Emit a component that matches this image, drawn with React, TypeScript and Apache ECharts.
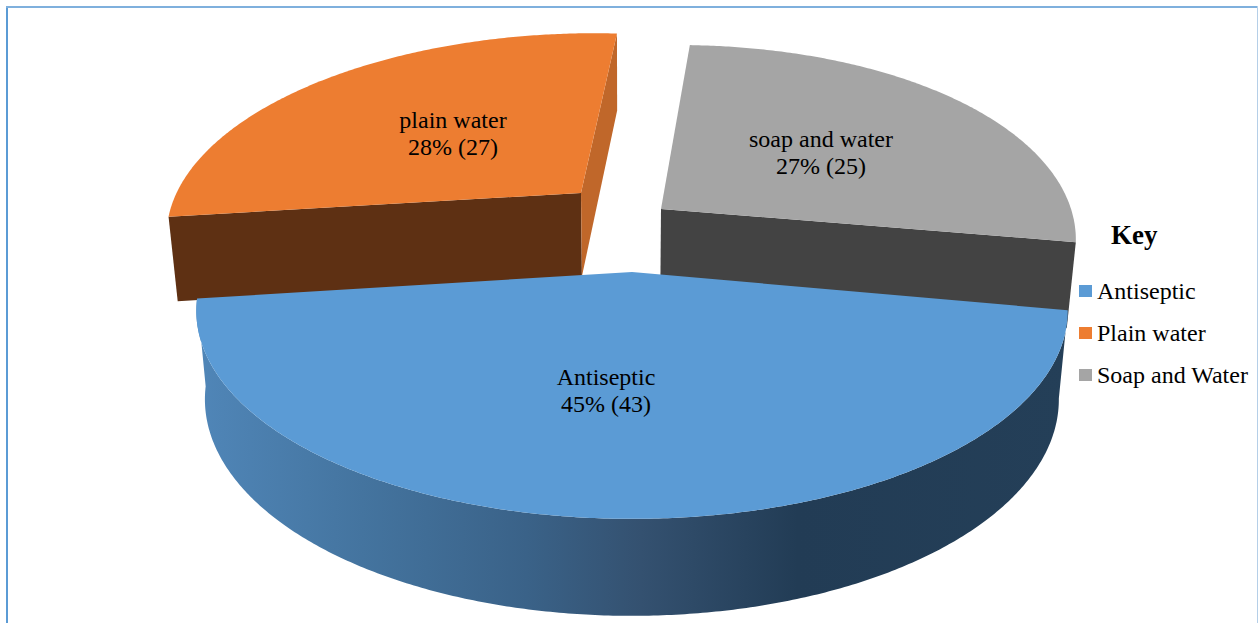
import React, { useEffect, useRef } from "react";
import * as echarts from "echarts";

// Hand-washing agents: share of respondents and head count per agent.
const legendNames = ["Antiseptic", "Plain water", "Soap and Water"];
const sliceNames = ["Antiseptic", "plain water", "soap and water"];
const percentages = [45, 28, 27];
const counts = [43, 27, 25];
const topColors = ["#5B9BD5", "#ED7D31", "#A5A5A5"];

const FONT = '"Liberation Serif", "Times New Roman", serif';

// Pie geometry: a tilted disc seen in perspective, with each slice pulled out.
const START_ANGLE = 101;
const RADIUS_X = 428;
const RADIUS_Y = 200.7;
const PERSPECTIVE = 0.187;
const BASE_CENTER_X = 626;
const BASE_SHRINK = 0.98;
const slicePlacement = [
  { ax: 632, ay: 272, scaleX: 1, scaleY: 1, turn: -0.4, lean: 0, labelX: 606, labelY: 390 },
  { ax: 581, ay: 193, scaleX: 0.945, scaleY: 0.945, turn: 0, lean: 13.4, labelX: 453, labelY: 133 },
  { ax: 661, ay: 209, scaleX: 0.958, scaleY: 0.97, turn: -1.5, lean: 15, labelX: 821, labelY: 152.5 },
];

const total = percentages.reduce((a, b) => a + b, 0);

function sliceAngles(index: number, value: number) {
  const before = percentages.slice(0, index).reduce((a, b) => a + b, 0);
  const start = START_ANGLE + (before / total) * 360;
  return [start, start + (value / total) * 360];
}

function rimPoint(index: number, deg: number): number[] {
  const p = slicePlacement[index];
  const rad = ((deg + p.turn) * Math.PI) / 180;
  const x = Math.sin(rad);
  const y = -Math.cos(rad);
  const w = 1 - PERSPECTIVE * y;
  return [
    p.ax + (p.scaleX * RADIUS_X * x) / w - p.lean * y,
    p.ay + (p.scaleY * RADIUS_Y * y) / w,
  ];
}

// The underside of the pie lies slightly lower and narrower than the top.
function dropped(pt: number[]): number[] {
  return [
    BASE_CENTER_X + (pt[0] - BASE_CENTER_X) * BASE_SHRINK,
    pt[1] + 75.6 + 0.0412 * pt[1],
  ];
}

function rimPoints(index: number, from: number, to: number): number[][] {
  const steps = Math.max(2, Math.ceil(Math.abs(to - from) * 2));
  const pts: number[][] = [];
  for (let i = 0; i <= steps; i++) pts.push(rimPoint(index, from + ((to - from) * i) / steps));
  return pts;
}

const wallGradient = () =>
  new echarts.graphic.LinearGradient(0, 0, 1, 0, [
    { offset: 0, color: "#5086B8" },
    { offset: 0.19, color: "#44749F" },
    { offset: 0.38, color: "#3A6288" },
    { offset: 0.51, color: "#345170" },
    { offset: 0.69, color: "#223C55" },
    { offset: 1, color: "#243F58" },
  ]);

function renderSlice(index: number, params: any, api: any) {
  const value = api.value(0);
  const count = api.value(1);
  const [a0, a1] = sliceAngles(index, value);
  const p = slicePlacement[index];
  const apex = [p.ax, p.ay];
  const rim = rimPoints(index, a0, a1);
  const first = rim[0];
  const last = rim[rim.length - 1];
  const children: any[] = [];
  const poly = (points: number[][], fill: any) => ({
    type: "polygon",
    silent: true,
    shape: { points },
    style: { fill, stroke: null },
  });

  if (index === 0) {
    // Curved outer wall of the front slice.
    const bottom = rim.map(dropped).reverse();
    children.push(poly([...rim, ...bottom], wallGradient()));
  }
  if (index === 1) {
    // Two cut faces of the far-left slice.
    children.push(poly([apex, first, dropped(first), dropped(apex)], "#5E3013"));
    children.push(poly([apex, last, dropped(last), dropped(apex)], "#C0672A"));
  }
  if (index === 2) {
    // Front cut face of the far-right slice.
    children.push(poly([apex, last, dropped(last), dropped(apex)], "#434343"));
  }
  children.push(poly([apex, ...rim], topColors[index]));
  children.push({
    type: "text",
    silent: true,
    style: {
      text: `${sliceNames[index]}\n${value}% (${count})`,
      x: p.labelX,
      y: p.labelY,
      fill: "#000000",
      font: `24px ${FONT}`,
      lineHeight: 27,
      align: "center",
      verticalAlign: "middle",
    },
  });
  return { type: "group", children };
}

export default function App() {
  const ref = useRef<HTMLDivElement>(null);

  useEffect(() => {
    document.body.style.margin = "0";
    const chart = echarts.init(ref.current!, null, { renderer: "svg" });
    const drawOrder = [1, 2, 0];
    chart.setOption({
      animation: false,
      backgroundColor: "#FFFFFF",
      title: {
        text: "Key",
        left: 1111,
        top: 221,
        padding: 0,
        textStyle: { fontFamily: FONT, fontSize: 27, fontWeight: "bold", color: "#000000" },
      },
      legend: {
        orient: "vertical",
        left: 1079,
        top: 279,
        padding: 0,
        itemWidth: 13,
        itemHeight: 12,
        itemGap: 18,
        icon: "rect",
        selectedMode: false,
        data: legendNames,
        textStyle: {
          fontFamily: FONT,
          fontSize: 24,
          lineHeight: 24,
          color: "#000000",
        },
      },
      graphic: [
        { type: "rect", silent: true, shape: { x: 6, y: 6, width: 2, height: 617 }, style: { fill: "#5B9BD5" } },
        { type: "rect", silent: true, shape: { x: 6, y: 6, width: 1252, height: 2 }, style: { fill: "#7FB0DD" } },
        { type: "rect", silent: true, shape: { x: 1257, y: 6, width: 1, height: 617 }, style: { fill: "#B5CFE8" } },
      ],
      series: drawOrder.map((i) => ({
        type: "custom",
        name: legendNames[i],
        coordinateSystem: "none",
        itemStyle: { color: topColors[i] },
        data: [{ name: sliceNames[i], value: [percentages[i], counts[i]] }],
        renderItem: (params: any, api: any) => renderSlice(i, params, api),
      })),
    });
    return () => chart.dispose();
  }, []);

  return (
    <div
      ref={ref}
      style={{ position: "absolute", left: 0, top: 0, width: 1258, height: 623 }}
    />
  );
}
